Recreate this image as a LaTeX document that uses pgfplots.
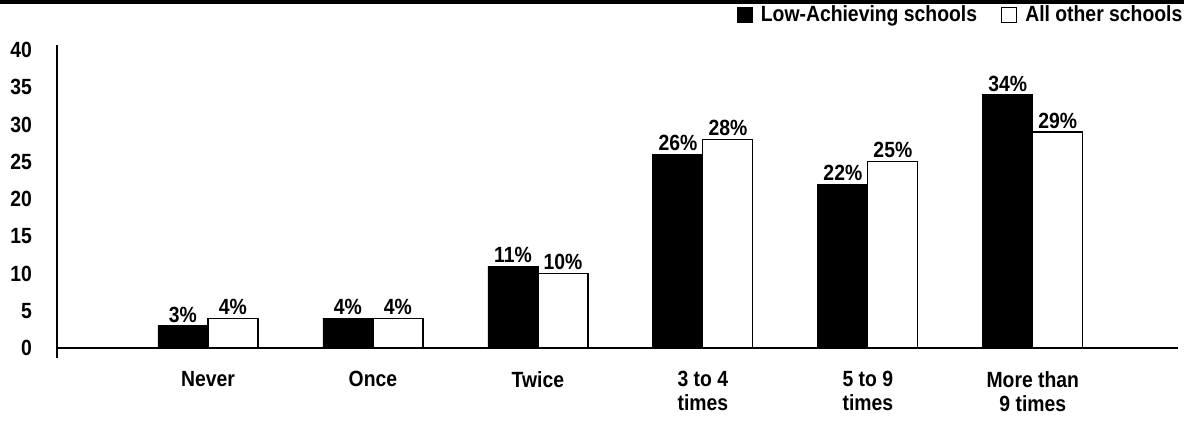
\documentclass[border=0pt]{standalone}
\usepackage{fontspec}
\setmainfont{Liberation Sans}[FakeStretch=0.88]
\usepackage{pgfplots}
\pgfplotsset{compat=1.18}
\newcommand\chartfont{\fontsize{11}{12}\selectfont\bfseries}
\begin{document}
\begin{tikzpicture}
\useasboundingbox (0,0) rectangle (592pt,212.5pt);
\draw[line width=1.75pt] (0,211.6pt) -- (592pt,211.6pt);
\begin{axis}[
  at={(28.5pt,33.5pt)}, anchor=south west,
  scale only axis, width=560.5pt, height=156.5pt,
  xmin=-0.915, xmax=5.88, ymin=-1.34, ymax=40.67,
  ybar=0pt, bar width=25pt,
  axis x line*=bottom,
  x axis line style={draw=none},
  axis y line*=left,
  y axis line style={line width=1pt, -},
  ytick={0,5,...,40},
  major tick length=0pt,
  /pgf/number format/assume math mode=true,
  ticklabel style={font=\chartfont},
  yticklabel style={xshift=-9pt},
  xtick={0,...,5},
  xticklabels={Never,Once,Twice,{3 to 4\\times},{5 to 9\\times},{More than\\9 times}},
  xticklabel style={align=center, yshift=-3pt, font=\chartfont},
  clip=false,
  nodes near coords={\pgfmathprintnumber{\pgfplotspointmeta}\%},
  every node near coord/.append style={font=\chartfont, anchor=south, inner sep=1.5pt, black},
  legend style={at={(1.006,1.096)}, anchor=east, draw=none, fill=none, inner sep=0pt,
    legend columns=2, font=\chartfont,
    nodes={inner sep=1pt},
    /tikz/every odd column/.append style={column sep=3pt},
    /tikz/every even column/.append style={column sep=11pt}},
  legend cell align=left,
  legend image code/.code={\draw[#1,line width=0.6pt] (-1pt,-3.6pt) rectangle (6.5pt,3.9pt);},
]
\addplot[fill=black, draw=black] coordinates {(0,3) (1,4) (2,11) (3,26) (4,22) (5,34)};
\addplot[fill=white, draw=black, line width=0.6pt] coordinates {(0,4) (1,4) (2,10) (3,28) (4,25) (5,29)};
\legend{Low-Achieving schools, All other schools}
\draw[line width=1pt] (axis cs:-0.915,0) -- (axis cs:5.88,0);
\end{axis}
\end{tikzpicture}
\end{document}
